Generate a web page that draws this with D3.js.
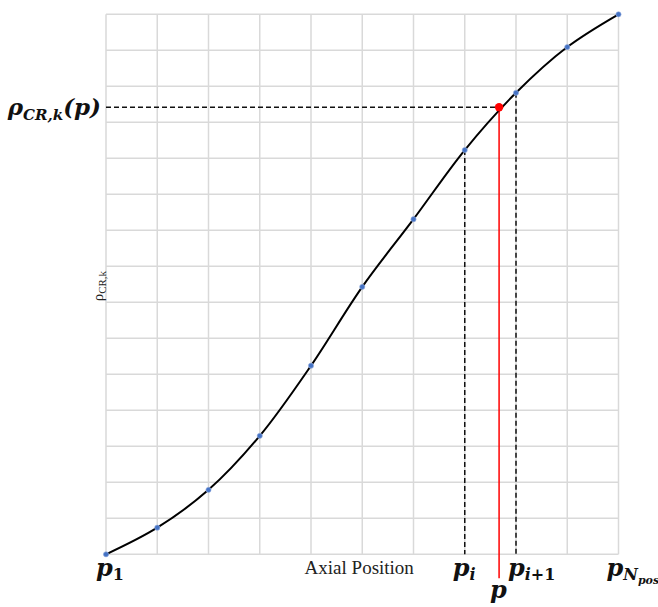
<!DOCTYPE html>
<html>
<head>
<meta charset="utf-8">
<script src="https://cdn.jsdelivr.net/npm/d3@7"></script>
<style>
  html, body { margin: 0; padding: 0; background: #fff; }
  svg { display: block; }
  .math { font-family: "DejaVu Serif", serif; font-weight: bold; font-style: italic; fill: #111; }
  .up { font-style: normal; }
  .plain { font-family: "Liberation Serif", "Times New Roman", serif; fill: #222; }
</style>
</head>
<body>
<svg id="chart" width="658" height="607"></svg>
<script>
// Sample positions along the axis (index of each grid column) and their density values
const positions = [0, 1, 2, 3, 4, 5, 6, 7, 8, 9, 10];
const densities = [0, 0.74, 1.79, 3.29, 5.24, 7.43, 9.31, 11.23, 12.82, 14.09, 15];

// Interpolated query point p lying between p_i and p_{i+1}
const queryX = [7.67];
const queryY = [12.42];
const bracket = [7, 8]; // indices of p_i and p_{i+1}

const xTicks = d3.range(0, 11);
const yTicks = d3.range(0, 16);

const svg = d3.select("#chart");
const margin = { left: 106, right: 658 - 618.5, top: 14.3, bottom: 607 - 554.3 };
const W = 658, H = 607;

const x = d3.scaleLinear().domain([0, 10]).range([margin.left, W - margin.right]);
const y = d3.scaleLinear().domain([0, 15]).range([H - margin.bottom, margin.top]);

// Grid
const grid = svg.append("g").attr("stroke", "#d9d9d9").attr("stroke-width", 1.5);
grid.selectAll("line.v").data(xTicks).join("line")
  .attr("x1", d => x(d)).attr("x2", d => x(d))
  .attr("y1", y(0)).attr("y2", y(15));
grid.selectAll("line.h").data(yTicks).join("line")
  .attr("x1", x(0)).attr("x2", x(10))
  .attr("y1", d => y(d)).attr("y2", d => y(d));

const pts = positions.map((p, i) => [p, densities[i]]);

// Guide lines: horizontal from the axis to the query point, verticals below p_i and p_{i+1}
const dash = svg.append("g").attr("stroke", "#111").attr("stroke-width", 1.5)
  .attr("stroke-dasharray", "5,3").attr("fill", "none");
dash.append("line")
  .attr("x1", x(0)).attr("x2", x(queryX[0]))
  .attr("y1", y(queryY[0])).attr("y2", y(queryY[0]));
dash.selectAll("line.b").data(bracket).join("line")
  .attr("x1", d => x(d)).attr("x2", d => x(d))
  .attr("y1", d => y(densities[d])).attr("y2", y(0));

// Red vertical marker at p
svg.append("line")
  .attr("x1", x(queryX[0])).attr("x2", x(queryX[0]))
  .attr("y1", y(queryY[0])).attr("y2", y(0) + 24)
  .attr("stroke", "#ff0000").attr("stroke-width", 1.5);

// Smooth density curve
const line = d3.line().x(d => x(d[0])).y(d => y(d[1])).curve(d3.curveCatmullRom.alpha(0.5));
svg.append("path").datum(pts).attr("d", line)
  .attr("fill", "none").attr("stroke", "#000").attr("stroke-width", 2);

// Sample markers
svg.append("g").selectAll("circle").data(pts).join("circle")
  .attr("cx", d => x(d[0])).attr("cy", d => y(d[1])).attr("r", 2.6)
  .attr("fill", "#4472c4").attr("stroke", "#9db4e0").attr("stroke-width", 0.6);

// Query point
svg.append("circle").attr("cx", x(queryX[0])).attr("cy", y(queryY[0])).attr("r", 4.2)
  .attr("fill", "#ff0000");

// Labels
const yLab = svg.append("text").attr("class", "math")
  .attr("x", 101).attr("y", y(queryY[0]) + 8).attr("text-anchor", "end").attr("font-size", 23);
yLab.append("tspan").text("ρ");
yLab.append("tspan").attr("font-size", 15).attr("dy", 5).text("CR,k");
yLab.append("tspan").attr("dy", -5).text("(p)");

svg.append("text").attr("class", "plain")
  .attr("transform", `translate(103,${y(7.45)}) rotate(-90)`)
  .attr("text-anchor", "middle").attr("font-size", 15)
  .html('ρ<tspan font-size="11" dy="3">CR,k</tspan>');

svg.append("text").attr("class", "plain")
  .attr("x", (x(4) + x(6)) / 2 - 3).attr("y", 574).attr("text-anchor", "middle")
  .attr("font-size", 19).text("Axial Position");

function pLabel(px, py, parts) {
  const t = svg.append("text").attr("class", "math").attr("x", px).attr("y", py).attr("font-size", 24);
  t.append("tspan").text("p");
  let first = true;
  (parts || []).forEach(([txt, size, upright, dy]) => {
    t.append("tspan").attr("font-size", size).attr("dy", dy)
      .attr("class", upright ? "up" : null).text(txt);
    first = false;
  });
  return t;
}
pLabel(x(0) - 10, 576, [["1", 16, true, 4]]);
pLabel(x(bracket[0]) - 12, 576, [["i", 16, false, 4]]);
pLabel(x(bracket[1]) - 8, 576, [["i", 16, false, 4], ["+1", 16, true, 0]]);
pLabel(x(10) - 12, 576, [["N", 16, false, 4], ["pos", 11, false, 4]]);
pLabel(x(queryX[0]) - 9, 598);
</script>
</body>
</html>
